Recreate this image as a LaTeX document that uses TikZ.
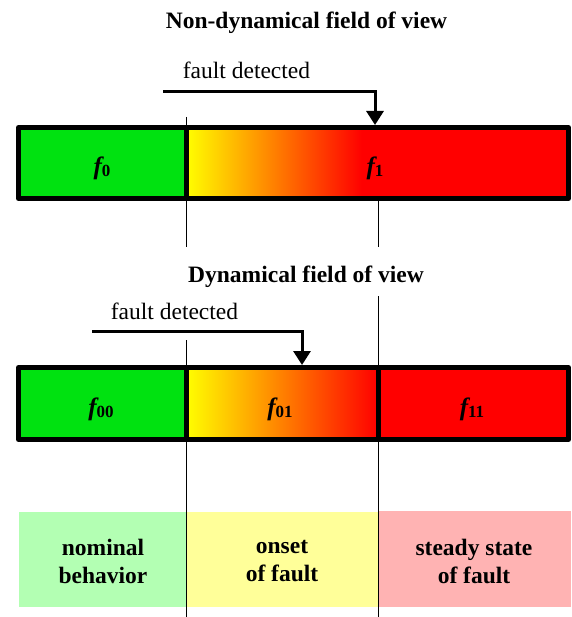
\documentclass[tikz,border=0pt]{standalone}
\usepackage{fontspec}
\setmainfont{Liberation Serif}
\usetikzlibrary{arrows.meta}
\definecolor{barGreen}{RGB}{0,226,16}
\definecolor{barRed}{RGB}{255,0,0}
\definecolor{softGreen}{RGB}{179,255,179}
\definecolor{softYellow}{RGB}{255,255,153}
\definecolor{softRed}{RGB}{255,179,179}
\newcommand{\flab}[1]{{\bfseries\itshape f}\raisebox{-2pt}{\fontsize{17}{17}\selectfont\bfseries #1}}
\tikzset{
  titletext/.style={anchor=base, inner sep=0pt, font=\fontsize{23.5}{27}\selectfont\bfseries},
  detecttext/.style={anchor=base, inner sep=0pt, font=\fontsize{23.5}{27}\selectfont},
  flabel/.style={anchor=base, inner sep=0pt, font=\fontsize{25}{28}\selectfont},
  phasetext/.style={inner sep=0pt, align=center, font=\fontsize{23.5}{28}\selectfont\bfseries},
  barborder/.style={line width=5pt, line join=round},
  thinline/.style={line width=1pt},
  detectarrow/.style={line width=3pt, -{Triangle[width=17pt,length=14pt]}},
}
\begin{document}
\begin{tikzpicture}[x=1pt,y=-1pt]
\useasboundingbox (0,0) rectangle (571,617);
% ---- top: non-dynamical ----
\node[titletext] (t1) at (306.5,29) {Non-dynamical field of view};
\node[detecttext] (d1) at (246.5,79) {fault detected};
\fill[barGreen] (18.5,127.5) rectangle (186,198.5);
\shade[left color=yellow, right color=barRed] (186,127.5) rectangle (362,198.5);
\fill[barRed] (362,127.5) rectangle (568.5,198.5);
\draw[barborder] (18.5,127.5) rectangle (568.5,198.5);
\draw[barborder] (186,127.5) -- (186,198.5);
\coordinate (b1top) at (375,125);
\coordinate (a1start) at (163,92);
\node[flabel] (f0) at (102,175) {\flab{0}};
\node[flabel] (f1) at (375,175) {\flab{1}};
\draw[thinline] (186,117) -- (186,247);
\draw[thinline] (378,201) -- (378,247);
\draw[detectarrow] (a1start) -| (b1top);
% ---- middle: dynamical ----
\node[titletext] (t2) at (306,282) {Dynamical field of view};
\node[detecttext] (d2) at (174.5,319) {fault detected};
\fill[barGreen] (18.5,367.5) rectangle (186,439.5);
\shade[left color=yellow, right color=barRed] (186,367.5) rectangle (378,439.5);
\fill[barRed] (378,367.5) rectangle (568.5,439.5);
\draw[barborder] (18.5,367.5) rectangle (568.5,439.5);
\draw[barborder] (186,367.5) -- (186,439.5);
\draw[barborder] (378,367.5) -- (378,439.5);
\coordinate (b2top) at (302,365);
\coordinate (a2start) at (92,331);
\node[flabel] (f00) at (101,415) {\flab{00}};
\node[flabel] (f01) at (280,415) {\flab{01}};
\node[flabel] (f11) at (472,415) {\flab{11}};
\draw[detectarrow] (a2start) -| (b2top);
% ---- bottom phases ----
\fill[softGreen] (19,512) rectangle (186,607);
\fill[softYellow] (186,512) rectangle (379,607);
\fill[softRed] (379,511) rectangle (571,607);
\node[phasetext] (p1) at (103,561) {nominal\\behavior};
\node[phasetext] (p2) at (282,561) {onset\\of fault};
\node[phasetext] (p3) at (474,561) {steady state\\of fault};
\draw[thinline] (186,340) -- (186,617);
\draw[thinline] (378,296) -- (378,617);
\end{tikzpicture}
\end{document}
